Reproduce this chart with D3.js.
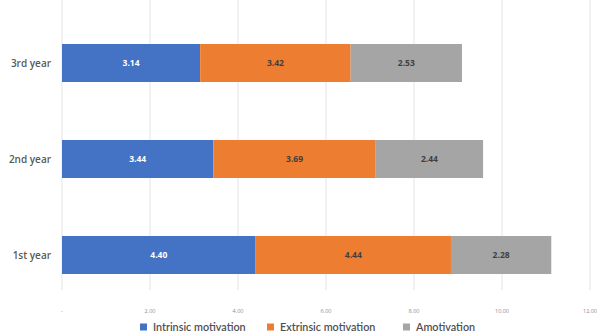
<!DOCTYPE html>
<html>
<head>
<meta charset="utf-8">
<script src="https://cdn.jsdelivr.net/npm/d3@7"></script>
<style>
  body { margin: 0; background: #fff; }
  svg { display: block; font-family: "Open Sans", "Noto Sans", sans-serif; }
</style>
</head>
<body>
<svg id="chart" width="600" height="332"></svg>
<script>
// data
const years = ['3rd year', '2nd year', '1st year'];
const seriesNames = ['Intrinsic motivation', 'Extrinsic motivation', 'Amotivation'];
const intrinsic = [3.14, 3.44, 4.40];
const extrinsic = [3.42, 3.69, 4.44];
const amotivation = [2.53, 2.44, 2.28];
const xTicks = [0, 2, 4, 6, 8, 10, 12];
const colors = ['#4472C4', '#ED7D31', '#A5A5A5'];
const labelColors = ['#ffffff', '#404040', '#404040'];

const svg = d3.select('#chart');

// build rows for the stack
const rows = years.map(function (y, i) {
  return {year: y, 0: intrinsic[i], 1: extrinsic[i], 2: amotivation[i]};
});
const stack = d3.stack().keys([0, 1, 2])(rows);

const x = d3.scaleLinear().domain([0, 12]).range([62, 590]);
const y = d3.scaleBand().domain(years).range([15, 303])
  .paddingInner(0.604).paddingOuter(0.302);

// gridlines
svg.append('g')
  .selectAll('line')
  .data(xTicks)
  .enter().append('line')
  .attr('x1', d => x(d)).attr('x2', d => x(d))
  .attr('y1', 0).attr('y2', 290)
  .attr('stroke', '#e3e3e3')
  .attr('stroke-width', 1);

// x tick labels
svg.append('g')
  .selectAll('text')
  .data(xTicks)
  .enter().append('text')
  .attr('x', d => x(d))
  .attr('y', 313)
  .attr('text-anchor', 'middle')
  .attr('font-size', 5.5)
  .attr('fill', '#8c8c8c')
  .text(d => d === 0 ? '-' : d3.format('.2f')(d));

// bars
const layers = svg.append('g')
  .selectAll('g')
  .data(stack)
  .enter().append('g')
  .attr('fill', (d, i) => colors[i]);

layers.selectAll('rect')
  .data(d => d)
  .enter().append('rect')
  .attr('x', d => x(d[0]))
  .attr('y', d => y(d.data.year))
  .attr('width', d => x(d[1]) - x(d[0]))
  .attr('height', y.bandwidth());

// value labels
stack.forEach(function (layer, i) {
  svg.append('g')
    .selectAll('text')
    .data(layer)
    .enter().append('text')
    .attr('x', d => (x(d[0]) + x(d[1])) / 2)
    .attr('y', d => y(d.data.year) + y.bandwidth() / 2)
    .attr('dy', '0.35em')
    .attr('text-anchor', 'middle')
    .attr('font-size', 8.5)
    .attr('font-weight', 'bold')
    .attr('fill', labelColors[i])
    .text(d => d3.format('.2f')(d[1] - d[0]));
});

// category labels
svg.append('g')
  .selectAll('text')
  .data(years)
  .enter().append('text')
  .attr('x', 51)
  .attr('y', d => y(d) + y.bandwidth() / 2)
  .attr('dy', '0.35em')
  .attr('text-anchor', 'end')
  .attr('font-size', 10)
  .attr('font-weight', 600)
  .attr('fill', '#595959')
  .text(d => d);

// legend
const legendX = [140, 267, 403];
const legend = svg.append('g')
  .selectAll('g')
  .data(seriesNames)
  .enter().append('g')
  .attr('transform', (d, i) => 'translate(' + legendX[i] + ',327)');

legend.append('rect')
  .attr('x', 0).attr('y', -3.5)
  .attr('width', 7).attr('height', 7)
  .attr('fill', (d, i) => colors[i]);

legend.append('text')
  .attr('x', 13)
  .attr('dy', '0.35em')
  .attr('font-family', 'Lato, sans-serif')
  .attr('font-size', 10.8)
  .attr('font-weight', 600)
  .attr('fill', '#505050')
  .text(d => d);
</script>
</body>
</html>
